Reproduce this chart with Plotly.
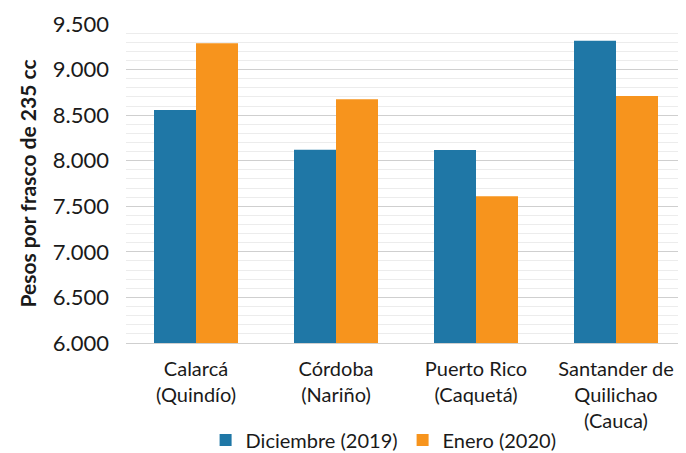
import plotly.graph_objects as go

municipios = ['Calarcá<br>(Quindío)', 'Córdoba<br>(Nariño)', 'Puerto Rico<br>(Caquetá)',
              'Santander de<br>Quilichao<br>(Cauca)']
diciembre_2019 = [8557, 8120, 8117, 9316]
enero_2020 = [9288, 8675, 7611, 8711]
ticks_y = [6000, 6500, 7000, 7500, 8000, 8500, 9000, 9500]

fuente = 'Lato'

fig = go.Figure()
fig.add_trace(go.Bar(x=municipios, y=diciembre_2019, name='Diciembre (2019)',
                     marker=dict(color='#1F77A6', line=dict(width=0))))
fig.add_trace(go.Bar(x=municipios, y=enero_2020, name='Enero (2020)',
                     marker=dict(color='#F7941D', line=dict(width=0))))

# la página tiene un margen de 8 px, por eso el lienzo es 678x445
fig.update_layout(
    width=678, height=445,
    margin=dict(l=118, r=0, t=16, b=110, autoexpand=False),
    plot_bgcolor='white', paper_bgcolor='white',
    separators=',.',
    bargap=0.4, bargroupgap=0,
    font=dict(family=fuente, color='#1a1a1a'),
    legend=dict(orientation='h', x=0.46, xanchor='center', y=-0.304, yanchor='middle',
                font=dict(size=20), itemwidth=30, traceorder='normal'),
    xaxis=dict(tickfont=dict(size=20), showline=True, linecolor='#cfcfcf', ticks='',
               ticklabelstandoff=8, automargin=False),
    yaxis=dict(range=[6000, 9500], tickvals=ticks_y, tickformat=',d',
               tickfont=dict(size=22), ticklabelstandoff=16, automargin=False,
               showgrid=True, gridcolor='#cfcfcf', gridwidth=1, zeroline=False,
               minor=dict(dtick=100, showgrid=True, gridcolor='#ececec', gridwidth=1),
               title=dict(text='<b>Pesos por frasco de 235 cc</b>', font=dict(size=21),
                          standoff=10)),
)

fig.write_html("out.html")
